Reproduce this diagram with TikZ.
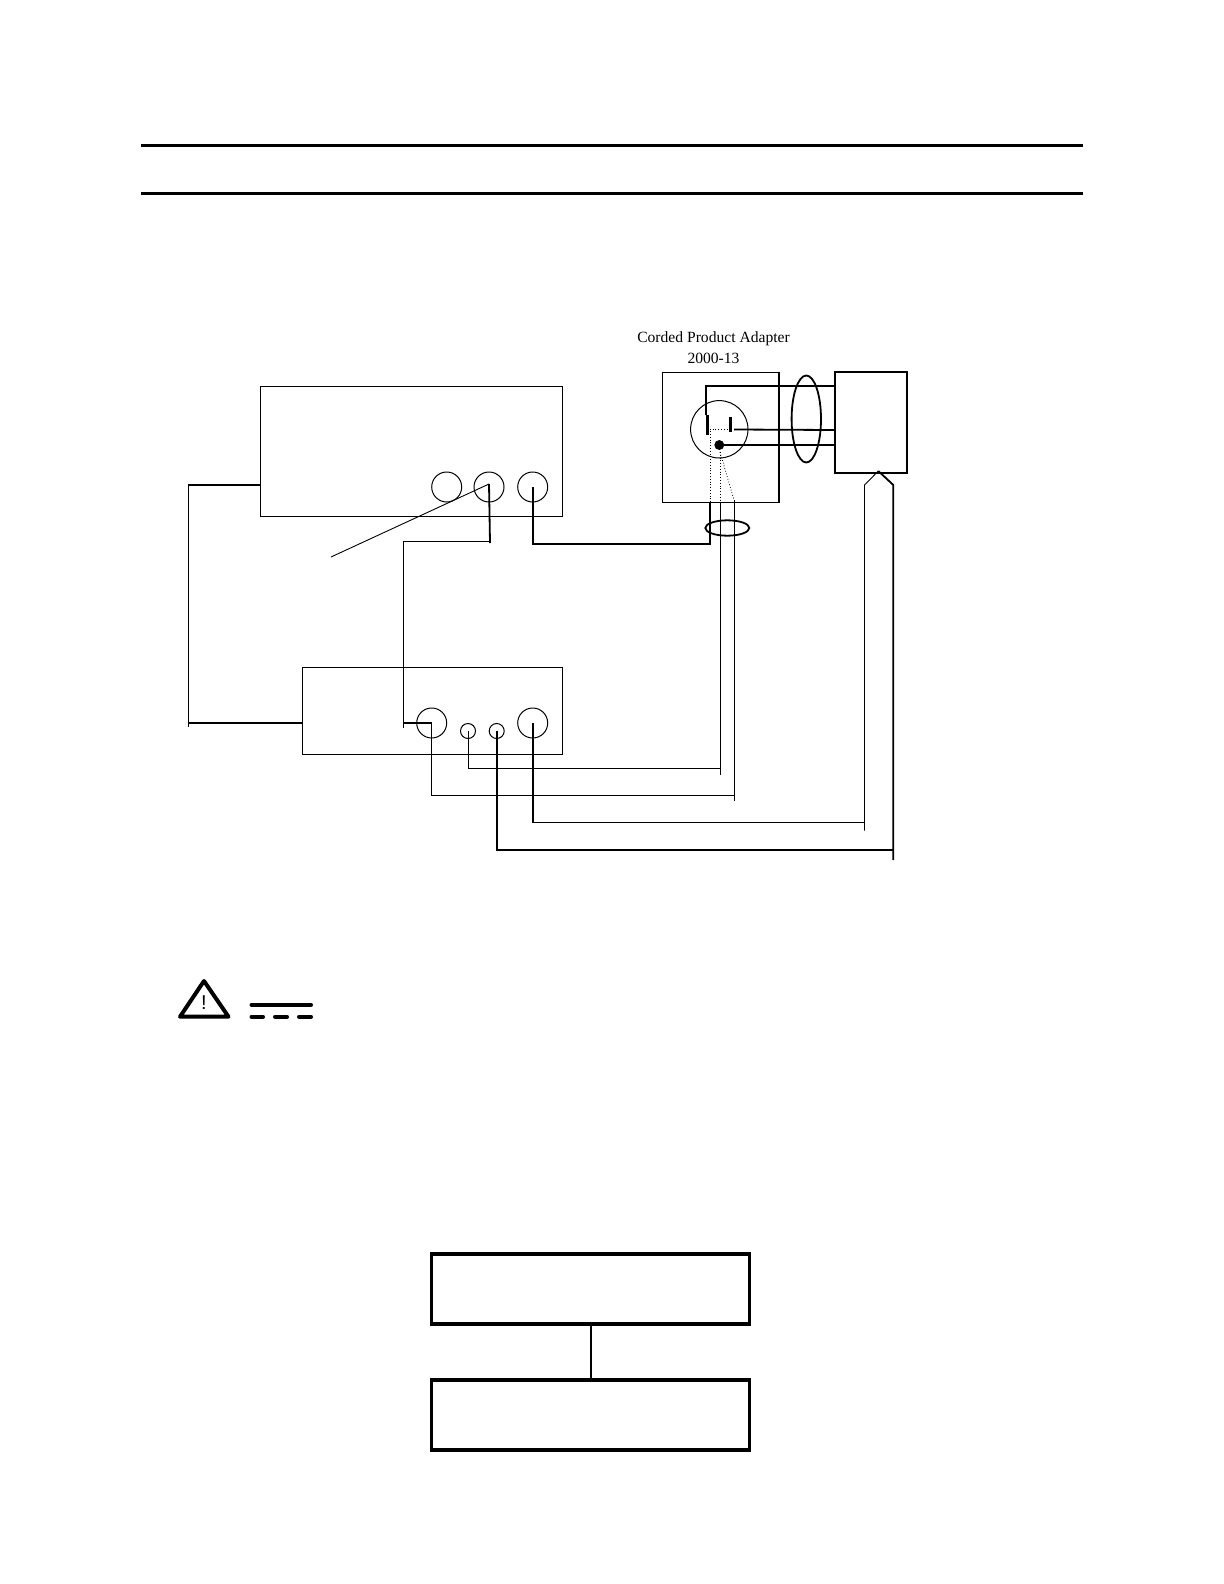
\documentclass[tikz,border=0pt]{standalone}
\usepackage{fontspec}
\setmainfont{Liberation Serif}
\setsansfont{Liberation Sans}
\usetikzlibrary{shapes.geometric}
\tikzset{
    unitbox/.style = {draw, rectangle, inner sep = 0, line width = 0.45pt},
    heavybox/.style = {draw, rectangle, inner sep = 0, line width = 1.8pt, minimum width = 159pt, minimum height = 35pt},
    jack/.style = {draw, circle, inner sep = 0, line width = 0.5pt},
    thinwire/.style = {line width = 0.45pt},
    thickwire/.style = {line width = 0.9pt},
    probe/.style = {line width = 0.4pt, densely dotted},
    caption/.style = {inner sep = 0, font = \fontsize{7.8}{8}\selectfont}
}
\begin{document}
\begin{tikzpicture}[x = 0.5pt, y = -0.5pt]
    \useasboundingbox (0,0) rectangle (1224,1584);
    % page rules
    \coordinate (R1) at (140.5,145.5);
    \coordinate (R2) at (1083,145.5);
    \coordinate (R3) at (140.5,193.5);
    \coordinate (R4) at (1083,193.5);
    \draw[line width = 1.4pt] (R1) -- (R2);
    \draw[line width = 1.4pt] (R3) -- (R4);
    % units
    \node[unitbox, minimum width = 151pt, minimum height = 65pt] (UA) at (411,451) {};
    \node[unitbox, minimum width = 130pt, minimum height = 43.5pt] (UB) at (432,710.5) {};
    \node[unitbox, minimum width = 58pt, minimum height = 65pt] (AD) at (720.3,437) {};
    \node[unitbox, line width = 0.9pt, minimum width = 36pt, minimum height = 50.5pt] (LD) at (871,422.5) {};
    \draw[thickwire] (UA.north east) -- (UA.south east);
    \draw[thickwire] (UB.north east) -- (UB.south east);
    \draw[thickwire] (AD.north east) -- (AD.south east) -- (AD.south west);
    % jacks
    \node[jack, minimum size = 15pt] (A1) at (446.7,487) {};
    \node[jack, minimum size = 15pt] (A2) at (489,487) {};
    \node[jack, minimum size = 15pt] (A3) at (532.7,487) {};
    \node[jack, minimum size = 15pt] (B1) at (431.7,723) {};
    \node[jack, minimum size = 7.5pt] (B2) at (468,731) {};
    \node[jack, minimum size = 7.5pt] (B3) at (496.7,731) {};
    \node[jack, minimum size = 15pt] (B4) at (532.7,723) {};
    % outlet
    \node[jack, minimum size = 28.7pt] (OUT) at (719.3,429.3) {};
    \node[draw, circle, fill, inner sep = 0, minimum size = 4.5pt] (GND) at (719.3,445) {};
    \coordinate (HOT1) at (707.3,415);
    \coordinate (HOT2) at (707.3,434.7);
    \coordinate (NEU1) at (730.3,417);
    \coordinate (NEU2) at (730.3,432);
    \draw[line width = 1.5pt] (HOT1) -- (HOT2);
    \draw[line width = 1.5pt] (NEU1) -- (NEU2);
    \node[caption] (CAP1) at (713.5,339) {Corded Product Adapter};
    \node[caption] (CAP2) at (713.5,358) {2000-13};
    % cable bands
    \node[draw, ellipse, inner sep = 0, line width = 0.9pt, minimum width = 14.7pt, minimum height = 43.5pt] (BAND1) at (806.3,419) {};
    \node[draw, ellipse, inner sep = 0, line width = 0.9pt, minimum width = 22pt, minimum height = 7.7pt] (BAND2) at (727.3,528) {};
    % mains wires
    \coordinate (T1) at (706,415);
    \coordinate (T2) at (706,386);
    \coordinate (T3) at (834.7,386);
    \coordinate (T4) at (734,429.5);
    \coordinate (T5) at (834.7,430);
    \coordinate (T6) at (834.7,445);
    \draw[thickwire] (T1) -- (T2) -- (T3);
    \draw[thickwire] (T4) -- (T5);
    \draw[thickwire] (GND) -- (T6);
    % power link between units
    \coordinate (L1) at (260,485);
    \coordinate (L2) at (188,485);
    \coordinate (L3) at (188,727);
    \coordinate (L4) at (188,723);
    \coordinate (L5) at (302,723);
    \draw[thickwire] (L1) -- (L2);
    \draw[thinwire] (L2) -- (L3);
    \draw[thickwire] (L4) -- (L5);
    % pointer and A2 wire
    \coordinate (P1) at (489,484);
    \coordinate (P2) at (331,557);
    \coordinate (P3) at (490,543);
    \coordinate (P4) at (490,541);
    \coordinate (P5) at (403,541);
    \coordinate (P6) at (403,728);
    \coordinate (P7) at (403,723);
    \draw[thinwire] (P1) -- (P2);
    \draw[thickwire] (P1) -- (P3);
    \draw[thinwire] (P4) -- (P5) -- (P6);
    \draw[thickwire] (P7) -- (B1.center);
    % A3 to adapter
    \coordinate (H1) at (710,544);
    \coordinate (H2) at (710,502);
    \draw[thickwire] (A3.center) |- (H1) -- (H2);
    % adapter probes
    \coordinate (S1) at (720,502);
    \coordinate (S2) at (734,500);
    \coordinate (S3) at (710,429);
    \coordinate (S4) at (730,429);
    \coordinate (S5) at (720,452);
    \draw[probe] (H2) -- (S3) -- (S4);
    \draw[probe] (S5) -- (S1);
    \draw[probe] (S5) -- (S2);
    % sense wires
    \coordinate (W1) at (720,768);
    \coordinate (W2) at (720,775);
    \coordinate (W3) at (734,795);
    \coordinate (W4) at (734,801);
    \draw[thinwire] (B2.center) |- (W1);
    \draw[thinwire] (S1) -- (W2);
    \draw[thinwire] (B1.center) |- (W3);
    \draw[thinwire] (S2) -- (W4);
    % load connector
    \coordinate (K1) at (864.5,830.5);
    \coordinate (K2) at (864.5,485);
    \coordinate (K3) at (878.3,471);
    \coordinate (K4) at (893.3,485);
    \coordinate (K5) at (893.3,860);
    \coordinate (K6) at (864.5,822.5);
    \coordinate (K7) at (893.3,849.7);
    \draw[thinwire] (K1) -- (K2) -- (K3);
    \draw[thickwire] (K3) -- (K4) -- (K5);
    \draw[thickwire] (B4.center) -- (B4.center |- K6);
    \draw[thinwire] (B4.center |- K6) -- (K6);
    \draw[thickwire] (B3.center) |- (K7);
    % warning sign
    \coordinate (TR1) at (204,981);
    \coordinate (TR2) at (180,1016.7);
    \coordinate (TR3) at (228.5,1016.7);
    \draw[line width = 2pt, line join = round] (TR1) -- (TR2) -- (TR3) -- cycle;
    \node[inner sep = 0, font = \sffamily\fontsize{10}{10}\selectfont] (MARK) at (204,1003) {!};
    % dc symbol
    \coordinate (D1) at (251.5,1004.7);
    \coordinate (D2) at (311,1004.7);
    \coordinate (D3) at (251.5,1016.7);
    \coordinate (D4) at (263,1016.7);
    \coordinate (D5) at (275,1016.7);
    \coordinate (D6) at (287,1016.7);
    \coordinate (D7) at (299,1016.7);
    \coordinate (D8) at (311,1016.7);
    \draw[line width = 2pt, line cap = round] (D1) -- (D2);
    \draw[line width = 2pt, line cap = round] (D3) -- (D4);
    \draw[line width = 2pt, line cap = round] (D5) -- (D6);
    \draw[line width = 2pt, line cap = round] (D7) -- (D8);
    % lower blocks
    \node[heavybox] (TOP) at (590.5,1289) {};
    \node[heavybox] (BOT) at (590.5,1415) {};
    \draw[line width = 1pt] (TOP) -- (BOT);
\end{tikzpicture}
\end{document}
